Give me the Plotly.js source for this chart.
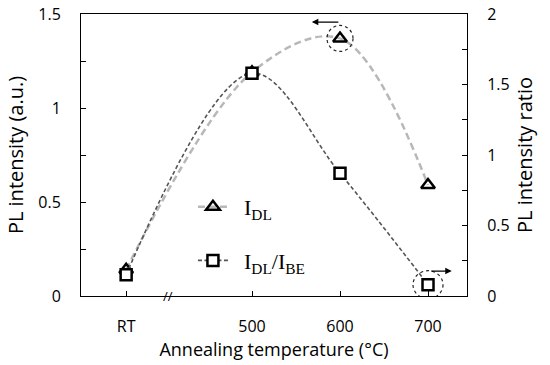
<!DOCTYPE html>
<html><head><meta charset="utf-8">
<script src="https://cdn.plot.ly/plotly-3.0.1.min.js"></script>
<style>html,body{margin:0;padding:0;background:#fff}#chart{width:550px;height:365px}</style>
</head><body><div id="chart"></div>
<script>
const categories = ["RT", "500", "600", "700"];
const plIntensity = [0.14, 1.19, 1.37, 0.59];   // I_DL (left axis, a.u.)
const plRatio = [0.15, 1.58, 0.87, 0.08];       // I_DL/I_BE (right axis)
const leftTicks = [0, 0.5, 1, 1.5];
const leftTickLabels = ["0", "0.5", "1", "1.5"];
const rightTicks = [0, 0.5, 1, 1.5, 2];
const rightTickLabels = ["0", "0.5", "1", "1.5", "2"];
const RT_POS = 357; // broken axis: where RT sits on the temperature scale
const xVals = categories.map(c => c === "RT" ? RT_POS : Number(c));

const axisFont = {family: "Open Sans, sans-serif", size: 16, color: "#000"};
const titleFont = {family: "Open Sans, sans-serif", size: 18, color: "#000"};
const yTitleFont = {family: "Open Sans, sans-serif", size: 20, color: "#000"};

const traces = [
  {x: xVals, y: plIntensity, yaxis: "y", name: "&nbsp;&nbsp;I<sub>DL</sub>", legendgroup: "a",
   mode: "lines+markers", line: {shape: "spline", smoothing: 1, color: "#b8b8b8", width: 2.5, dash: "7px,4px"},
   marker: {symbol: "triangle-up-open", size: 12, color: "#000", line: {width: 2.5, color: "#000"}}},
  {x: xVals, y: plRatio, yaxis: "y2", name: "&nbsp;&nbsp;I<sub>DL</sub>/I<sub>BE</sub>", legendgroup: "b",
   mode: "lines+markers", line: {shape: "spline", smoothing: 1, color: "#555", width: 1.6, dash: "4px,2.5px"},
   marker: {symbol: "square", size: 11, color: "#fff", line: {width: 2.5, color: "#000"}}}
];

const layout = {
  width: 550, height: 365,
  margin: {l: 81, r: 83, t: 14, b: 69},
  paper_bgcolor: "#fff", plot_bgcolor: "#fff",
  showlegend: true,
  legend: {x: 0.29, y: 0.39, xanchor: "left", yanchor: "top", bgcolor: "rgba(0,0,0,0)",
           font: {family: "Liberation Serif, serif", size: 22, color: "#000"}, tracegroupgap: 22},
  xaxis: {range: [305.7, 744.3], tickvals: xVals, ticktext: categories, ticks: "inside", ticklen: 5,
          tickcolor: "#000", showline: true, linecolor: "#000", linewidth: 1, mirror: true,
          showgrid: false, zeroline: false, tickfont: axisFont, ticklabelstandoff: 16,
          title: {text: "Annealing temperature (°C)", font: titleFont, standoff: 4}},
  yaxis: {range: [0, 1.5], tickvals: leftTicks, ticktext: leftTickLabels, ticks: "inside", ticklen: 5,
          tickcolor: "#000", showline: true, linecolor: "#000", linewidth: 1, showgrid: false, zeroline: false,
          minor: {dtick: 0.25, ticks: "inside", ticklen: 5, tickcolor: "#000", showgrid: false},
          tickfont: axisFont, ticklabelstandoff: 16,
          title: {text: "PL intensity (a.u.)", font: yTitleFont, standoff: 9}},
  yaxis2: {range: [0, 2], overlaying: "y", side: "right", tickvals: rightTicks, ticktext: rightTickLabels,
           ticks: "inside", ticklen: 5, tickcolor: "#000", showline: true, linecolor: "#000", linewidth: 1,
           showgrid: false, zeroline: false,
           minor: {dtick: 0.25, ticks: "inside", ticklen: 5, tickcolor: "#000", showgrid: false},
           tickfont: axisFont, ticklabelstandoff: 16,
           title: {text: "PL intensity ratio", font: yTitleFont, standoff: 9}},
  shapes: [
    {type: "circle", xref: "x", yref: "y", xsizemode: "pixel", ysizemode: "pixel",
     xanchor: 600, yanchor: plIntensity[2], x0: -13, x1: 13, y0: -13, y1: 13,
     line: {color: "#222", width: 1.2, dash: "dot"}},
    {type: "circle", xref: "x", yref: "y2", xsizemode: "pixel", ysizemode: "pixel",
     xanchor: 700, yanchor: plRatio[3], x0: -15, x1: 15, y0: -14, y1: 14,
     line: {color: "#222", width: 1.2, dash: "dot"}}
  ],
  annotations: [
    {xref: "x", yref: "y", x: 404.6, y: 0, text: "//", showarrow: false,
     font: {family: "Open Sans, sans-serif", size: 13, color: "#000"}},
    {xref: "x", yref: "y", x: 568, y: 1.457, ax: 28, ay: 0, text: "", showarrow: true,
     arrowhead: 2, arrowsize: 1, arrowwidth: 1.3, arrowcolor: "#000"},
    {xref: "x", yref: "y2", x: 727, y: 0.177, ax: -22, ay: 0, text: "", showarrow: true,
     arrowhead: 2, arrowsize: 1, arrowwidth: 1.3, arrowcolor: "#000"}
  ]
};

Plotly.newPlot("chart", traces, layout, {displayModeBar: false, staticPlot: true});
</script></body></html>
